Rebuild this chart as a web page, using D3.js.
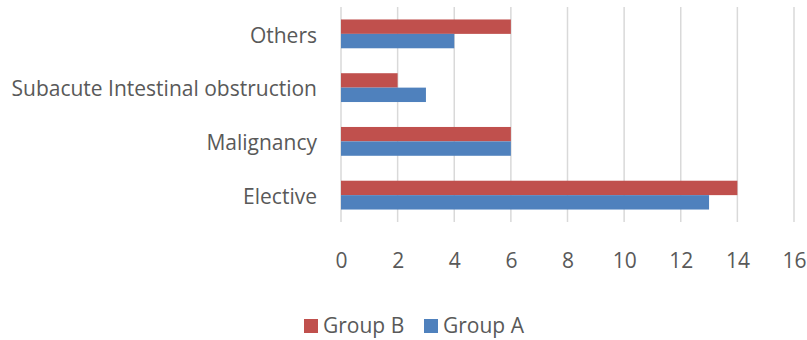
<!DOCTYPE html>
<html>
<head>
<meta charset="utf-8">
<script src="https://cdn.jsdelivr.net/npm/d3@7"></script>
<style>
  html, body { margin: 0; padding: 0; background: #fff; }
  svg { display: block; }
  text { font-family: "Open Sans", Lato, sans-serif; fill: #595959; }
</style>
</head>
<body>
<svg id="chart" width="807" height="340"></svg>
<script>
// Categories listed top to bottom
const categories = ["Others", "Subacute Intestinal obstruction", "Malignancy", "Elective"];
const seriesNames = ["Group B", "Group A"];
const groupB = [6, 2, 6, 14];
const groupA = [4, 3, 6, 13];
const xTicks = [0, 2, 4, 6, 8, 10, 12, 14, 16];
const colors = { "Group B": "#C0504D", "Group A": "#4F81BD" };

const values = { "Group B": groupB, "Group A": groupA };
const rows = categories.map((c, i) => ({
  category: c,
  bars: seriesNames.map(s => ({ series: s, value: values[s][i] }))
}));

const fontSize = "21px";
const svg = d3.select("#chart");
const plot = { left: 341, right: 794, top: 7, bottom: 222 };

const x = d3.scaleLinear().domain([0, 16]).range([plot.left, plot.right]);
const y = d3.scaleBand().domain(categories).range([plot.top, plot.bottom])
  .paddingInner(0.464).paddingOuter(0.232);
const ySub = d3.scaleBand().domain(seriesNames).range([0, y.bandwidth()]);

// vertical gridlines
svg.append("g")
  .selectAll("line")
  .data(xTicks)
  .join("line")
  .attr("x1", d => x(d)).attr("x2", d => x(d))
  .attr("y1", plot.top).attr("y2", plot.bottom)
  .attr("stroke", "#D9D9D9")
  .attr("stroke-width", 1.5);

// bars
const groups = svg.append("g")
  .selectAll("g")
  .data(rows)
  .join("g")
  .attr("transform", d => `translate(0,${y(d.category)})`);

groups.selectAll("rect")
  .data(d => d.bars)
  .join("rect")
  .attr("x", x(0))
  .attr("y", d => ySub(d.series))
  .attr("width", d => x(d.value) - x(0))
  .attr("height", ySub.bandwidth())
  .attr("fill", d => colors[d.series]);

// category axis labels
const yAxis = d3.axisLeft(y).tickSize(0).tickPadding(24);
const yg = svg.append("g").attr("transform", `translate(${plot.left},0)`).call(yAxis);
yg.select(".domain").remove();
yg.selectAll("text").style("font-size", fontSize).attr("font-family", null)
  .attr("fill", "#595959").attr("dy", "0.42em");

// value axis labels
const xAxis = d3.axisBottom(x).tickValues(xTicks).tickSize(0).tickPadding(31);
const xg = svg.append("g").attr("transform", `translate(0,${plot.bottom})`).call(xAxis);
xg.select(".domain").remove();
xg.selectAll("text").style("font-size", fontSize).attr("font-family", null).attr("fill", "#595959");

// legend
const legendItems = [
  { name: "Group B", x: 304 },
  { name: "Group A", x: 424 }
];
const lg = svg.append("g");
legendItems.forEach(it => {
  lg.append("rect").attr("x", it.x).attr("y", 319).attr("width", 14).attr("height", 14)
    .attr("fill", colors[it.name]);
  lg.append("text").attr("x", it.x + 19).attr("y", 333)
    .style("font-size", fontSize).text(it.name);
});
</script>
</body>
</html>
